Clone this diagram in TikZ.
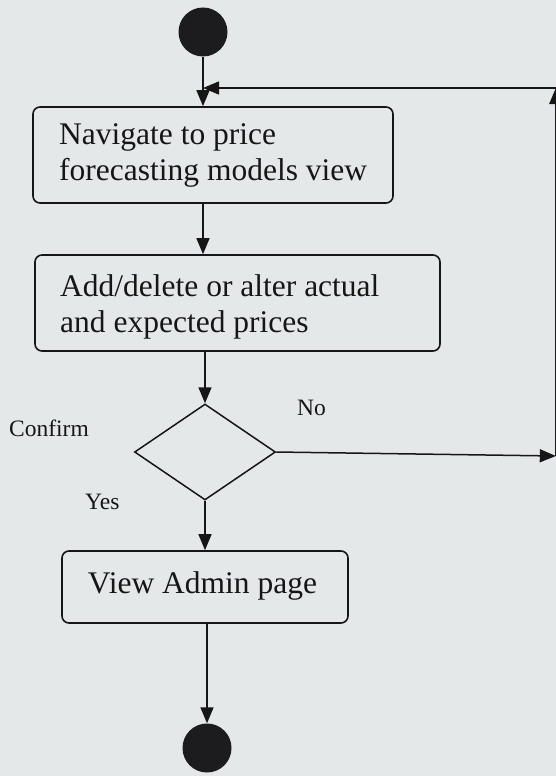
\documentclass[tikz,border=0pt]{standalone}
\usepackage{fontspec}
\setmainfont{Liberation Serif}
\usetikzlibrary{arrows.meta,shapes.geometric}
\definecolor{paper}{RGB}{229,232,233}
\definecolor{ink}{RGB}{22,22,22}
\definecolor{dot}{RGB}{28,28,30}

\begin{document}
\begin{tikzpicture}[x=1pt,y=-1pt,
  flow/.style={draw=ink, line width=1.5pt, -{Triangle[length=16pt,width=13pt]}},
  activity/.style={draw=ink, line width=1.6pt, rounded corners=7pt, fill=paper,
    inner sep=0pt},
  acttext/.style={font=\fontsize{31.5}{36}\selectfont, align=left, inner sep=0pt,
    text=ink},
  guard/.style={font=\fontsize{23.5}{28}\selectfont, inner sep=0pt, text=ink},
  decision/.style={draw=ink, line width=1.5pt, diamond, aspect=1.47,
    minimum width=141pt, minimum height=96pt, inner sep=0pt, fill=paper},
  terminal/.style={circle, fill=dot, inner sep=0pt, minimum size=49pt}
]
% canvas
\fill[paper] (0,0) rectangle (556,776);
\useasboundingbox (0,0) rectangle (556,776);

% initial and final states
\node[terminal] (start) at (203,32) {};
\node[terminal] (stop) at (207,748) {};

% activities (the base anchor of a two-line text is its last line)
\node[activity, minimum width=360pt, minimum height=96pt] (nav) at (213,155) {};
\node[acttext, anchor=base west] (navtxt) at (59,180)
  {Navigate to price\\forecasting models view};

\node[activity, minimum width=405pt, minimum height=96pt] (edit) at (237.5,303) {};
\node[acttext, anchor=base west] (edittxt) at (60,332)
  {Add/delete or alter actual\\and expected prices};

\node[activity, minimum width=286pt, minimum height=72pt] (admin) at (205,587) {};
\node[acttext, anchor=base] (admintxt) at (202.5,593) {View Admin page};

% decision
\node[decision] (dec) at (205,452) {};

% guard labels
\node[guard, anchor=base west] (confirm) at (9,436) {Confirm};
\node[guard, anchor=base west] (no) at (297,415) {No};
\node[guard, anchor=base west] (yes) at (85,509) {Yes};

% loop-back route along the right margin
\coordinate (noEnd) at (555.8,456);
\coordinate (loopTop) at (555.8,88);
\coordinate (join) at (203,88);

% main flow
\draw[flow] (start.south) -- (start.south |- nav.north);
\draw[flow] (nav.south -| 203,0) -- (edit.north -| 203,0);
\draw[flow] (edit.south -| dec.north) -- (dec.north);
\draw[flow] (dec.south) -- (dec.south |- admin.north);
\draw[flow] (admin.south -| stop.north) -- (stop.north);

% rejected changes go back to the start of the loop
\draw[flow] (dec.east) -- (noEnd);
\draw[flow] (noEnd) -- (loopTop);
\draw[flow] (loopTop) -- (join);
\end{tikzpicture}
\end{document}
